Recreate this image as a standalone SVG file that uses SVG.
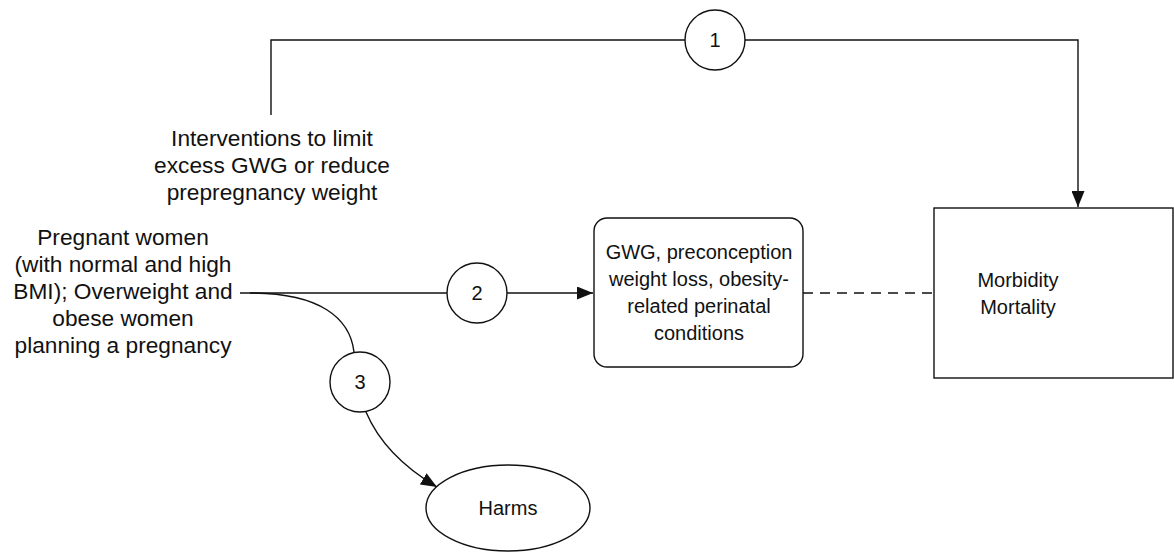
<svg xmlns="http://www.w3.org/2000/svg" width="1174" height="554" viewBox="0 0 1174 554">
<defs>
<style>
text{font-family:"Liberation Sans",Arial,sans-serif;font-size:20px;fill:#111;text-anchor:middle}
.big{font-size:22.7px}
.ln{fill:none;stroke:#111;stroke-width:1.4}
.nd{fill:#fff;stroke:#111;stroke-width:1.4}
</style>
<marker id="ah" viewBox="0 0 16 13" refX="16" refY="6.5" markerWidth="16" markerHeight="13" markerUnits="userSpaceOnUse" orient="auto">
<path d="M0,0 L16,6.5 L0,13 Z" fill="#111"/>
</marker>
</defs>
<rect width="1174" height="554" fill="#fff"/>
<g id="connectors">
<path class="ln" d="M271,115 V40 H1078 V207" marker-end="url(#ah)"/>
<path class="ln" d="M240,293 H593" marker-end="url(#ah)"/>
<path class="ln" d="M803,293 H934" stroke-dasharray="10,7"/>
<path class="ln" d="M250,293 C320,293 350,318 354,352"/>
<path class="ln" d="M366,412 C380,445 405,468 437,487" marker-end="url(#ah)"/>
</g>
<g id="interventions">
<text class="big" x="272" y="146">Interventions to limit</text>
<text class="big" x="272" y="173">excess GWG or reduce</text>
<text class="big" x="272" y="200">prepregnancy weight</text>
</g>
<g id="population">
<text class="big" x="123" y="245">Pregnant women</text>
<text class="big" x="123" y="272">(with normal and high</text>
<text class="big" x="123" y="299">BMI); Overweight and</text>
<text class="big" x="123" y="326">obese women</text>
<text class="big" x="123" y="353">planning a pregnancy</text>
</g>
<g id="kq1"><circle class="nd" cx="715" cy="40" r="30"/><text x="715" y="47">1</text></g>
<g id="kq2"><circle class="nd" cx="477" cy="293" r="30"/><text x="477" y="300">2</text></g>
<g id="kq3"><circle class="nd" cx="360" cy="382" r="30"/><text x="360" y="389">3</text></g>
<g id="intermediate">
<rect class="nd" x="594" y="218" width="209" height="149" rx="13" stroke="#555"/>
<text x="699" y="259">GWG, preconception</text>
<text x="699" y="286">weight loss, obesity-</text>
<text x="699" y="313">related perinatal</text>
<text x="699" y="340">conditions</text>
</g>
<g id="outcomes">
<rect class="nd" x="934" y="208" width="239" height="170"/>
<text x="1018" y="287">Morbidity</text>
<text x="1018" y="314">Mortality</text>
</g>
<g id="harms">
<ellipse class="nd" cx="508" cy="508" rx="82" ry="43"/>
<text x="508" y="515">Harms</text>
</g>
</svg>
